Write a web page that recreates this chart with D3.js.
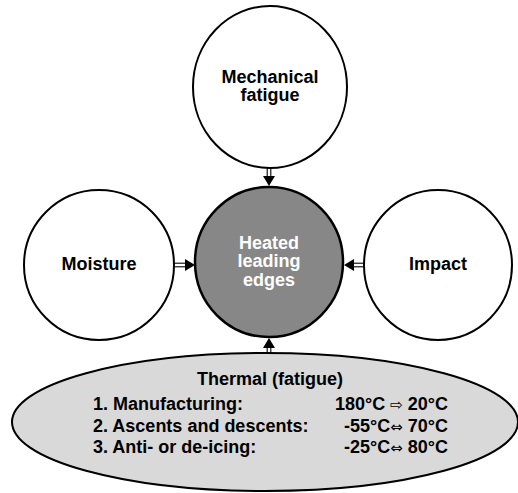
<!DOCTYPE html>
<html><head><meta charset="utf-8">
<script src="https://cdn.jsdelivr.net/npm/d3@7"></script>
<style>body{margin:0;background:#fff}svg{display:block}</style>
</head><body>
<script>
// ---- data ----
const centerLabel = ["Heated", "leading", "edges"];
const factorLabels = [["Mechanical", "fatigue"], ["Moisture"], ["Impact"]];
const thermalTitle = "Thermal (fatigue)";
const thermalSteps = ["1. Manufacturing:", "2. Ascents and descents:", "3. Anti- or de-icing:"];
const thermalFrom = ["180°C", "-55°C", "-25°C"];
const thermalArrow = ["\u21E8", "\u21D4", "\u21D4"];
const thermalTo = ["20°C", "70°C", "80°C"];

// ---- layout ----
const W = 518, H = 493;
const svg = d3.select("body").append("svg").attr("width", W).attr("height", H);
const font = "'Liberation Sans', Arial, sans-serif";

const center = {cx: 269, cy: 262, rx: 74, ry: 75};
const factors = [
  {cx: 270, cy: 87, rx: 77, ry: 81},
  {cx: 99, cy: 265, rx: 75, ry: 75},
  {cx: 438, cy: 265, rx: 74, ry: 75}
];
const thermal = {cx: 265, cy: 422, rx: 253, ry: 69};

svg.append("ellipse").attr("cx", thermal.cx).attr("cy", thermal.cy).attr("rx", thermal.rx).attr("ry", thermal.ry)
  .attr("fill", "#d9d9d9").attr("stroke", "#000").attr("stroke-width", 2);

svg.selectAll("ellipse.factor").data(factors).join("ellipse").attr("class", "factor")
  .attr("cx", d => d.cx).attr("cy", d => d.cy).attr("rx", d => d.rx).attr("ry", d => d.ry)
  .attr("fill", "#fff").attr("stroke", "#000").attr("stroke-width", 2);

svg.append("ellipse").attr("cx", center.cx).attr("cy", center.cy).attr("rx", center.rx).attr("ry", center.ry)
  .attr("fill", "#878787").attr("stroke", "#000").attr("stroke-width", 2.5);

// arrows: double shaft + triangle head
function arrow(x1, y1, x2, y2) {
  const dx = x2 - x1, dy = y2 - y1, L = Math.hypot(dx, dy);
  const ux = dx / L, uy = dy / L, px = -uy, py = ux;
  const headLen = 10, headW = 6, gap = 1.8;
  const bx = x2 - ux * headLen, by = y2 - uy * headLen;
  const g = svg.append("g");
  [-gap, gap].forEach(o => {
    g.append("line").attr("x1", x1 + px * o).attr("y1", y1 + py * o)
      .attr("x2", bx + px * o).attr("y2", by + py * o)
      .attr("stroke", "#000").attr("stroke-width", 1.1);
  });
  g.append("path").attr("d", d3.line()([[x2, y2], [bx + px * headW, by + py * headW], [bx - px * headW, by - py * headW]]) + "Z")
    .attr("fill", "#000");
}
arrow(269, 168, 269, 186);
arrow(174, 265, 195, 265);
arrow(364, 265, 344, 265);
arrow(269, 354, 269, 338);

// multi-line labels as a single text element
function lines(x, yMid, arr, color) {
  const lh = 18.5, y0 = yMid - (arr.length - 1) * lh / 2;
  const t = svg.append("text").attr("text-anchor", "middle")
    .attr("font-family", font).attr("font-weight", "bold").attr("font-size", 18).attr("fill", color);
  arr.forEach((s, i) => t.append("tspan").attr("x", x).attr("y", y0 + i * lh).text(s));
}
lines(270, 92, factorLabels[0], "#000");
lines(99, 270, factorLabels[1], "#000");
lines(438, 270, factorLabels[2], "#000");
lines(269, 267, centerLabel, "#fff");

svg.append("text").attr("x", 270).attr("y", 385).attr("text-anchor", "middle")
  .attr("font-family", font).attr("font-weight", "bold").attr("font-size", 18).text(thermalTitle);
const rowY = [410, 432, 453];
const rowX = [332, 333, 338];
thermalSteps.forEach((s, i) => {
  svg.append("text").attr("x", 93).attr("y", rowY[i]).attr("font-family", font)
    .attr("font-weight", "bold").attr("font-size", 18).text(s);
  const t = svg.append("text").attr("x", 448).attr("y", rowY[i]).attr("text-anchor", "end")
    .attr("font-family", font).attr("font-weight", "bold").attr("font-size", 18);
  t.append("tspan").text(thermalFrom[i] + (i === 0 ? " " : ""));
  t.append("tspan").attr("font-family", "'DejaVu Sans', sans-serif").attr("font-weight", "normal")
    .attr("font-size", 15).text(thermalArrow[i]);
  t.append("tspan").text(" " + thermalTo[i]);
});
</script>
</body></html>
